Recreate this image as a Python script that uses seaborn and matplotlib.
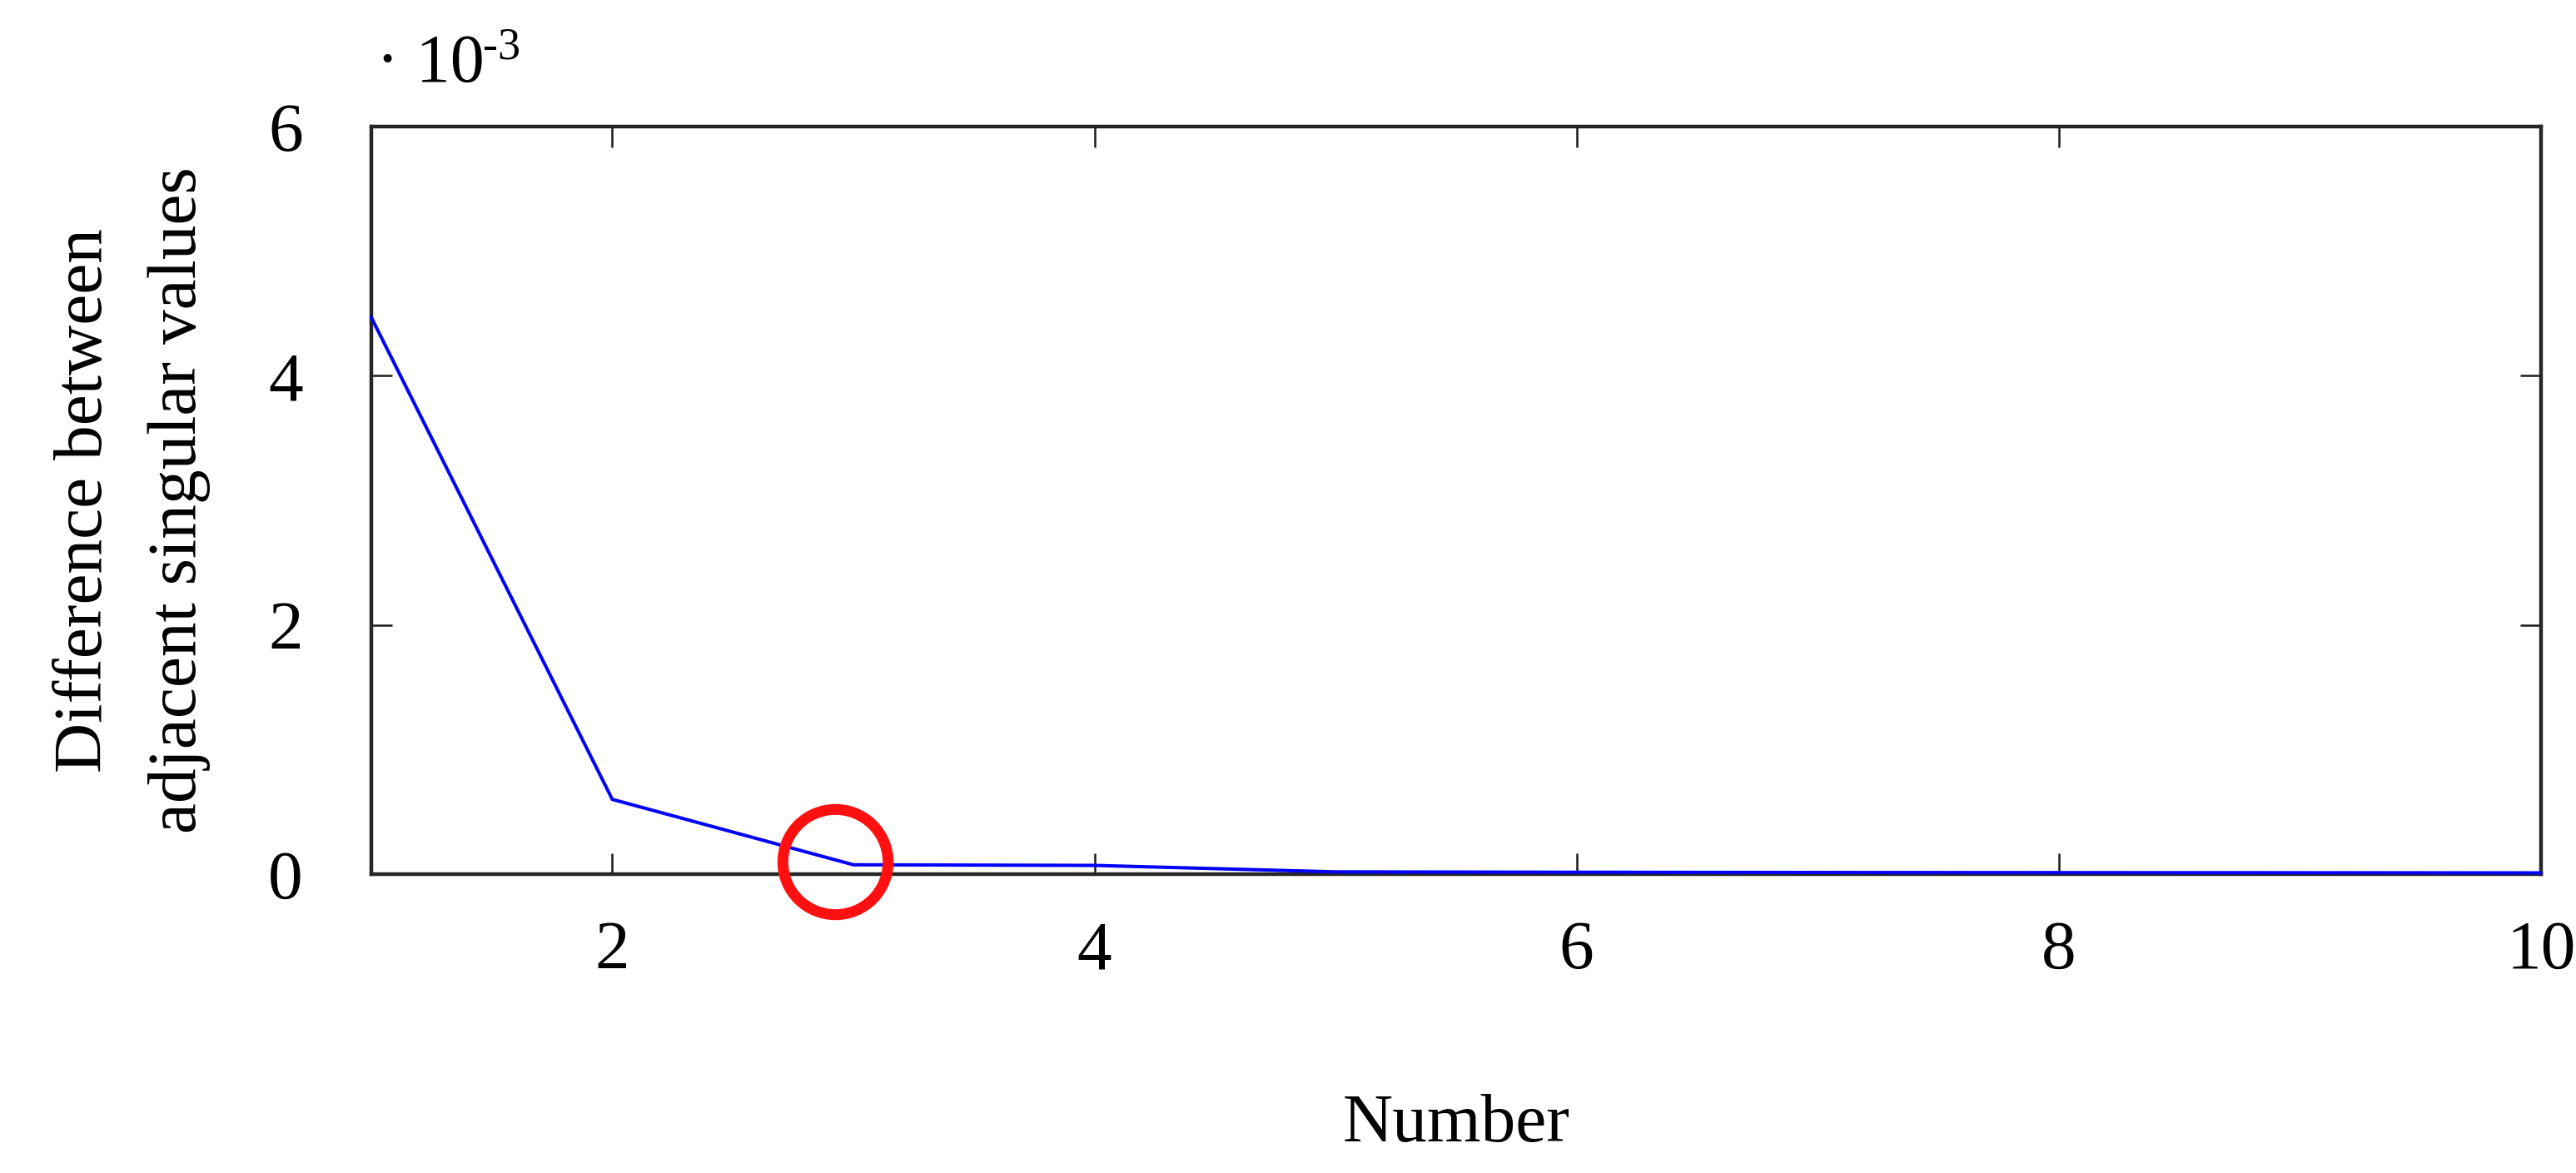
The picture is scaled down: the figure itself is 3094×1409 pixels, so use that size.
import numpy as np
import pandas as pd
import matplotlib
matplotlib.use("Agg")
import matplotlib.pyplot as plt
import seaborn as sns
from matplotlib.ticker import FuncFormatter

# index of the singular value and difference between neighbouring values
number = [1, 2, 3, 4, 5, 6, 7, 8, 9, 10]
diff = [4.47e-3, 0.60e-3, 0.075e-3, 0.07e-3, 0.018e-3,
        0.015e-3, 0.013e-3, 0.012e-3, 0.011e-3, 0.010e-3]

# highlighted point (red ring)
mark_x = [2.923]
mark_y = [0.10e-3]

x_ticks = [2, 4, 6, 8, 10]
y_ticks = [0, 0.002, 0.004, 0.006]

sns.set_theme(style="ticks")
plt.rcParams['font.family'] = ['Liberation Serif', 'DejaVu Serif']
plt.rcParams['text.color'] = 'black'
plt.rcParams['axes.labelcolor'] = 'black'

data = pd.DataFrame({"Number": number, "Diff": diff})

fig = plt.figure(figsize=(30.94, 14.09), dpi=100)
ax = fig.add_axes([0.1441, 0.2548, 0.8423, 0.6373])

sns.lineplot(x="Number", y="Diff", data=data, ax=ax, color="#0000ff",
             lw=2.9, zorder=3, clip_on=False)

# red ring around the knee
ax.plot(mark_x, mark_y, marker='o', ms=91, mfc='none', mec='#ff1010',
        mew=9.4, ls='none', zorder=4, clip_on=False)

ax.set_xlim(1, 10)
ax.set_ylim(0, 0.006)
ax.set_xticks(x_ticks)
ax.set_yticks(y_ticks)
ax.yaxis.set_major_formatter(FuncFormatter(lambda v, p: f"{v * 1e3:g}"))

ax.tick_params(direction='in', length=18, width=1.8, color='#1a1a1a',
               labelsize=60, top=True, right=True, labelcolor='black')
ax.tick_params(axis='x', pad=40)
ax.tick_params(axis='y', pad=59)

for s in ["top", "right", "left", "bottom"]:
    ax.spines[s].set_visible(True)
    ax.spines[s].set_linewidth(3.2)
    ax.spines[s].set_color('#262626')

ax.set_xlabel("Number", fontsize=60)
ax.xaxis.set_label_coords(0.5, -0.293)
ax.set_ylabel("Difference between\nadjacent singular values", fontsize=60,
              linespacing=1.65)
ax.yaxis.set_label_coords(-0.074, 0.5)

# exponent label above the y axis
ax.text(0.0023, 1.060, "· 10", transform=ax.transAxes, fontsize=59,
        ha='left', va='baseline')
ax.text(0.0514, 1.0913, "-3", transform=ax.transAxes, fontsize=39,
        ha='left', va='baseline')

plt.savefig("out.png", dpi=100)
plt.close()
